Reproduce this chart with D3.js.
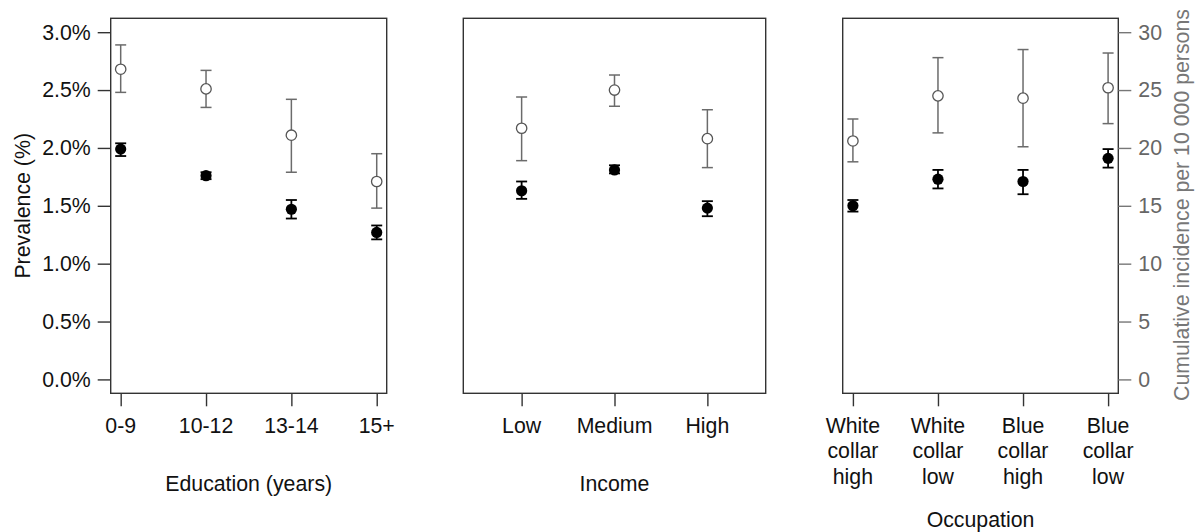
<!DOCTYPE html>
<html><head><meta charset="utf-8">
<script src="https://cdn.jsdelivr.net/npm/d3@7"></script>
<style>
body{margin:0;background:#fff;}
text{font-family:"Liberation Sans",Arial,sans-serif;}
</style></head>
<body><svg id="c" width="1195" height="532"></svg>
<script>
// Data (percent units; incidence per 10 000 = percent * 10)
const eduCats = ["0-9","10-12","13-14","15+"];
const eduPrev = [1.99,1.76,1.47,1.27];
const eduPrevLo = [1.93,1.73,1.39,1.21];
const eduPrevHi = [2.04,1.79,1.55,1.33];
const eduInc = [2.68,2.51,2.11,1.71];
const eduIncLo = [2.48,2.35,1.79,1.48];
const eduIncHi = [2.89,2.67,2.42,1.95];

const incCats = ["Low","Medium","High"];
const incPrev = [1.63,1.81,1.48];
const incPrevLo = [1.56,1.78,1.41];
const incPrevHi = [1.71,1.85,1.54];
const incInc = [2.17,2.50,2.08];
const incIncLo = [1.89,2.36,1.83];
const incIncHi = [2.44,2.63,2.33];

const occCats = [["White","collar","high"],["White","collar","low"],["Blue","collar","high"],["Blue","collar","low"]];
const occPrev = [1.50,1.73,1.71,1.91];
const occPrevLo = [1.45,1.65,1.60,1.83];
const occPrevHi = [1.55,1.81,1.81,1.99];
const occInc = [2.06,2.45,2.43,2.52];
const occIncLo = [1.88,2.13,2.01,2.21];
const occIncHi = [2.25,2.78,2.85,2.82];

const leftTicks = [0,0.5,1.0,1.5,2.0,2.5,3.0];
const rightTicks = [0,5,10,15,20,25,30];

const svg = d3.select("#c");
const FS = 21.3;
const plotTop = 18.3, plotBottom = 393.3;
const y = d3.scaleLinear().domain([-0.12,3.12]).range([plotBottom, plotTop]);
const yR = d3.scaleLinear().domain([-1.2,31.2]).range([plotBottom, plotTop]);

const panels = [
  {x0:110.7, x1:386.7, cats:eduCats, pad:0.117, title:"Education (years)", titleY:491,
   prev:eduPrev, plo:eduPrevLo, phi:eduPrevHi, inc:eduInc, ilo:eduIncLo, ihi:eduIncHi},
  {x0:463.3, x1:765.7, cats:incCats, pad:0.628, title:"Income", titleY:491,
   prev:incPrev, plo:incPrevLo, phi:incPrevHi, inc:incInc, ilo:incIncLo, ihi:incIncHi},
  {x0:842.7, x1:1118.3, cats:occCats.map(d=>d.join(" ")), lines:occCats, pad:0.12, title:"Occupation", titleY:526.5,
   prev:occPrev, plo:occPrevLo, phi:occPrevHi, inc:occInc, ilo:occIncLo, ihi:occIncHi}
];

panels.forEach((p,pi)=>{
  const x = d3.scalePoint().domain(p.cats).range([p.x0,p.x1]).padding(p.pad);
  const g = svg.append("g");
  g.append("rect").attr("x",p.x0).attr("y",plotTop).attr("width",p.x1-p.x0).attr("height",plotBottom-plotTop)
    .attr("fill","none").attr("stroke","#333").attr("stroke-width",1.4);
  const xa = g.append("g").attr("transform",`translate(0,${plotBottom})`)
    .call(d3.axisBottom(x).tickSize(13).tickSizeOuter(0).tickFormat(()=>""));
  xa.select(".domain").remove();
  xa.selectAll(".tick line").attr("stroke","#333").attr("stroke-width",1.4);
  p.cats.forEach((c,i)=>{
    const lines = p.lines ? p.lines[i] : [c];
    const t = g.append("text").attr("x",x(c)).attr("y",432.5).attr("text-anchor","middle")
      .attr("font-size",FS).attr("fill","#111");
    lines.forEach((l,j)=>t.append("tspan").attr("x",x(c)).attr("dy",j===0?0:25.8).text(l));
  });
  g.append("text").attr("x",(p.x0+p.x1)/2).attr("y",p.titleY).attr("text-anchor","middle")
    .attr("font-size",FS).attr("fill","#111").text(p.title);

  const cap = 5.5;
  p.cats.forEach((c,i)=>{
    const cx = x(c);
    g.append("line").attr("x1",cx).attr("x2",cx).attr("y1",y(p.ilo[i])).attr("y2",y(p.ihi[i]))
      .attr("stroke","#6b6b6b").attr("stroke-width",1.5);
    [p.ilo[i],p.ihi[i]].forEach(v=>g.append("line").attr("x1",cx-cap).attr("x2",cx+cap)
      .attr("y1",y(v)).attr("y2",y(v)).attr("stroke","#6b6b6b").attr("stroke-width",1.5));
    g.append("circle").attr("cx",cx).attr("cy",y(p.inc[i])).attr("r",5.2)
      .attr("fill","#fff").attr("stroke","#555").attr("stroke-width",1.3);
  });
  p.cats.forEach((c,i)=>{
    const cx = x(c);
    g.append("line").attr("x1",cx).attr("x2",cx).attr("y1",y(p.plo[i])).attr("y2",y(p.phi[i]))
      .attr("stroke","#000").attr("stroke-width",1.8);
    [p.plo[i],p.phi[i]].forEach(v=>g.append("line").attr("x1",cx-cap).attr("x2",cx+cap)
      .attr("y1",y(v)).attr("y2",y(v)).attr("stroke","#000").attr("stroke-width",1.8));
    g.append("circle").attr("cx",cx).attr("cy",y(p.prev[i])).attr("r",5.6).attr("fill","#000");
  });

  if(pi===0){
    const ya = g.append("g").attr("transform",`translate(${p.x0},0)`)
      .call(d3.axisLeft(y).tickValues(leftTicks).tickSize(13).tickPadding(7)
        .tickFormat(d=>d.toFixed(1)+"%"));
    ya.select(".domain").remove();
    ya.selectAll(".tick line").attr("stroke","#333").attr("stroke-width",1.4);
    ya.selectAll(".tick text").attr("font-size",FS).attr("fill","#111")
      .attr("font-family","Liberation Sans, Arial, sans-serif");
    g.append("text").attr("transform",`translate(29.5,205.8) rotate(-90)`).attr("text-anchor","middle")
      .attr("font-size",FS).attr("fill","#111").text("Prevalence (%)");
  }
  if(pi===2){
    const ya = g.append("g").attr("transform",`translate(${p.x1},0)`)
      .call(d3.axisRight(yR).tickValues(rightTicks).tickSize(13).tickPadding(7));
    ya.select(".domain").remove();
    ya.selectAll(".tick line").attr("stroke","#777").attr("stroke-width",1.4);
    ya.selectAll(".tick text").attr("font-size",FS).attr("fill","#666")
      .attr("font-family","Liberation Sans, Arial, sans-serif");
    g.append("text").attr("transform",`translate(1189,205) rotate(-90)`).attr("text-anchor","middle")
      .attr("font-size",FS).attr("fill","#777").text("Cumulative incidence per 10 000 persons");
  }
});
</script></body></html>
